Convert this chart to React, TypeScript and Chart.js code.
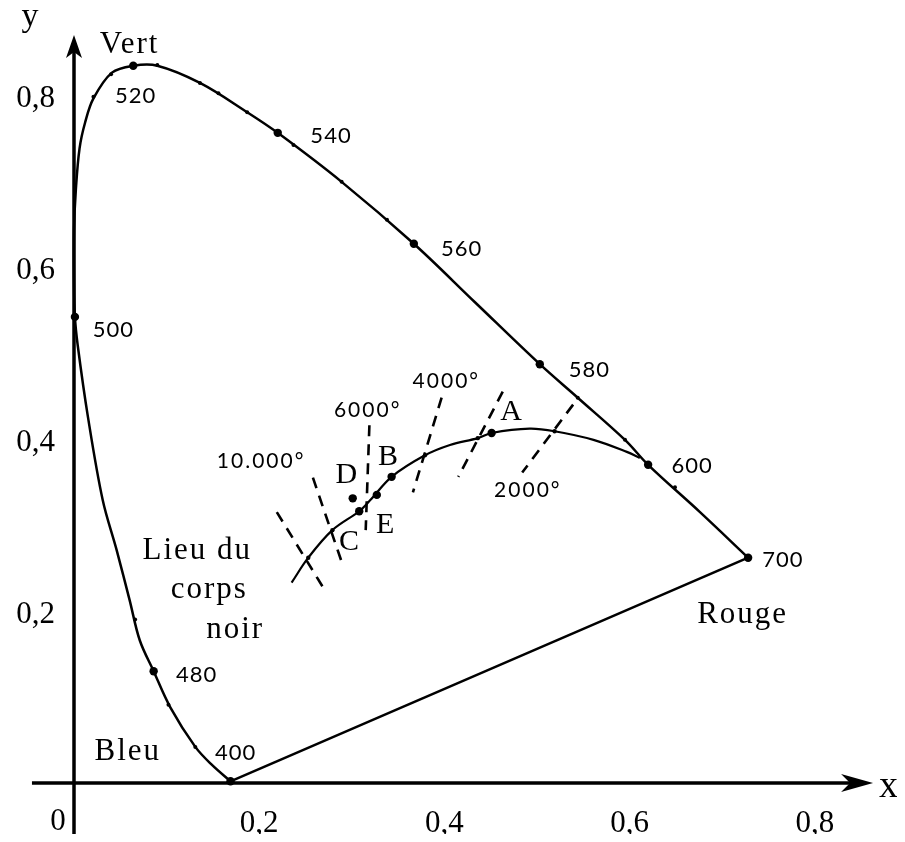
import React, { useEffect, useRef } from "react";
import { Chart, registerables } from "chart.js";

Chart.register(...registerables);

// ---------- data (chromaticity coordinates) ----------
const spectralLocus: [number, number][] = [
  [0.169, 0.002], [0.149, 0.021], [0.131, 0.042], [0.104, 0.088], [0.086, 0.13],
  [0.071, 0.166], [0.06, 0.213], [0.046, 0.271], [0.031, 0.329], [0.015, 0.426],
  [0.004, 0.509], [0.001, 0.542], [0.0, 0.585], [0.0, 0.643], [0.002, 0.69],
  [0.006, 0.738], [0.012, 0.768], [0.021, 0.796], [0.041, 0.826], [0.064, 0.834],
  [0.09, 0.834], [0.136, 0.814], [0.187, 0.78], [0.22, 0.756], [0.289, 0.699],
  [0.367, 0.627], [0.433, 0.559], [0.503, 0.487], [0.544, 0.448], [0.595, 0.399],
  [0.62, 0.37], [0.676, 0.315], [0.728, 0.262],
];
const purpleLine: [number, number][] = [[0.728, 0.262], [0.169, 0.002]];

const wavelengths = ["400", "480", "500", "520", "540", "560", "580", "600", "700"];
const wavelengthPoints: [number, number][] = [
  [0.169, 0.002], [0.086, 0.13], [0.001, 0.542], [0.064, 0.834], [0.22, 0.756],
  [0.367, 0.627], [0.503, 0.487], [0.62, 0.37], [0.728, 0.262],
];
const wavelengthLabelAnchors: [number, number][] = [
  [0.174, 0.027], [0.132, 0.117], [0.042, 0.519], [0.066, 0.791], [0.277, 0.744],
  [0.418, 0.613], [0.556, 0.472], [0.667, 0.361], [0.765, 0.251],
];
const spectralTicks: [number, number][] = [
  [0.131, 0.042], [0.102, 0.091], [0.066, 0.19], [0.021, 0.798], [0.04, 0.824],
  [0.09, 0.835], [0.136, 0.814], [0.156, 0.802], [0.187, 0.78], [0.237, 0.742],
  [0.289, 0.699], [0.338, 0.655], [0.544, 0.448], [0.595, 0.399], [0.649, 0.344],
];

const planckLocus: [number, number][] = [
  [0.235, 0.233], [0.253, 0.262], [0.279, 0.294], [0.308, 0.316], [0.32, 0.329],
  [0.343, 0.356], [0.379, 0.381], [0.406, 0.393], [0.436, 0.401], [0.451, 0.407],
  [0.492, 0.412], [0.519, 0.409], [0.561, 0.399], [0.597, 0.385], [0.611, 0.378],
];
const sourceNames = ["A", "B", "C", "D", "E"];
const sourcePoints: [number, number][] = [
  [0.451, 0.407], [0.343, 0.356], [0.308, 0.316], [0.301, 0.331], [0.327, 0.335],
];
const sourceLabelAnchors: [number, number][] = [
  [0.472, 0.422], [0.339, 0.37], [0.297, 0.271], [0.294, 0.349], [0.336, 0.291],
];
const planckTicks: [number, number][] = [
  [0.253, 0.262], [0.279, 0.294], [0.379, 0.381], [0.436, 0.401], [0.519, 0.409],
];

const isotherms: [number, number][][] = [
  [[0.219, 0.315], [0.271, 0.224]],
  [[0.258, 0.355], [0.291, 0.251]],
  [[0.319, 0.416], [0.315, 0.294]],
  [[0.397, 0.448], [0.366, 0.338]],
  [[0.463, 0.455], [0.415, 0.356]],
  [[0.539, 0.44], [0.484, 0.361]],
];
const temperatureLabels = ["10.000°", "6000°", "4000°", "2000°"];
const temperatureLabelAnchors: [number, number][] = [
  [0.201, 0.366], [0.316, 0.426], [0.401, 0.459], [0.489, 0.333],
];

const regionNames = ["Vert", "Bleu", "Rouge", "Lieu du", "corps", "noir"];
const regionLabelAnchors: [number, number][] = [
  [0.059, 0.849], [0.057, 0.027], [0.721, 0.186], [0.132, 0.261], [0.145, 0.215], [0.173, 0.169],
];

const xTickValues = [0.2, 0.4, 0.6, 0.8];
const yTickValues = [0.2, 0.4, 0.6, 0.8];

// ---------- layout ----------
const CANVAS_W = 897;
const CANVAS_H = 826;
const X_MIN = -0.01728;
const X_MAX = 0.8974;
const Y_MIN = -0.01977;
const Y_MAX = 0.90116;
const Y_ARROW_TIP = 0.8698;
const X_ARROW_TIP = 0.8629;
const X_AXIS_START = -0.0454;

const SERIF = "'Liberation Serif', 'Times New Roman', serif";
const SANS = "Lato, 'Open Sans', sans-serif";

const pts = (a: [number, number][]) => a.map(([x, y]) => ({ x, y }));

const lineDs = (a: [number, number][], width: number, tension: number, dash: number[] = []) => ({
  data: pts(a),
  showLine: true,
  borderColor: "#000",
  backgroundColor: "#000",
  borderWidth: width,
  borderDash: dash,
  borderJoinStyle: "round" as const,
  pointRadius: 0,
  pointHoverRadius: 0,
  tension,
  fill: false,
});

const dotDs = (a: [number, number][], r: number) => ({
  data: pts(a),
  showLine: false,
  pointRadius: r,
  pointHoverRadius: r,
  pointBackgroundColor: "#000",
  pointBorderColor: "#000",
  pointBorderWidth: 0,
  backgroundColor: "#000",
  borderColor: "#000",
});

type Ann = { text: string; at: [number, number]; font: string; spacing: number };

const annotations: Ann[] = [
  ...wavelengths.map((t, i) => ({ text: t, at: wavelengthLabelAnchors[i], font: `22px ${SANS}`, spacing: 1 })),
  ...temperatureLabels.map((t, i) => ({ text: t, at: temperatureLabelAnchors[i], font: `21px ${SANS}`, spacing: 2 })),
  ...sourceNames.map((t, i) => ({ text: t, at: sourceLabelAnchors[i], font: `30px ${SERIF}`, spacing: 0 })),
  ...regionNames.map((t, i) => ({ text: t, at: regionLabelAnchors[i], font: `31px ${SERIF}`, spacing: 2 })),
  { text: "y", at: [-0.0475, 0.88], font: `34px ${SERIF}`, spacing: 0 },
  { text: "x", at: [0.8795, -0.0163], font: `38px ${SERIF}`, spacing: 0 },
  { text: "0", at: [-0.0173, -0.0547], font: `31px ${SERIF}`, spacing: 0 },
];

const diagramPlugin = {
  id: "diagram",
  beforeDatasetsDraw(chart: any) {
    const { ctx, scales } = chart;
    const xs = scales.x;
    const ys = scales.y;
    ctx.save();
    ctx.strokeStyle = "#000";
    ctx.fillStyle = "#000";
    // vertical axis
    const ax = xs.getPixelForValue(0);
    const tipY = ys.getPixelForValue(Y_ARROW_TIP);
    ctx.lineWidth = 3.5;
    ctx.beginPath();
    ctx.moveTo(ax, CANVAS_H + 5);
    ctx.lineTo(ax, tipY + 12);
    ctx.stroke();
    ctx.beginPath();
    ctx.moveTo(ax, tipY);
    ctx.lineTo(ax - 8, tipY + 23);
    ctx.lineTo(ax, tipY + 17);
    ctx.lineTo(ax + 8, tipY + 23);
    ctx.closePath();
    ctx.fill();
    // horizontal axis
    const ay = ys.getPixelForValue(0);
    const tipX = xs.getPixelForValue(X_ARROW_TIP);
    ctx.beginPath();
    ctx.moveTo(xs.getPixelForValue(X_AXIS_START), ay);
    ctx.lineTo(tipX - 15, ay);
    ctx.stroke();
    ctx.beginPath();
    ctx.moveTo(tipX, ay);
    ctx.lineTo(tipX - 32, ay - 9);
    ctx.lineTo(tipX - 23, ay);
    ctx.lineTo(tipX - 32, ay + 9);
    ctx.closePath();
    ctx.fill();
    ctx.restore();
  },
  afterDraw(chart: any) {
    const { ctx, scales } = chart;
    ctx.save();
    ctx.fillStyle = "#000";
    ctx.textAlign = "center";
    ctx.textBaseline = "alphabetic";
    for (const a of annotations) {
      ctx.font = a.font;
      (ctx as any).letterSpacing = `${a.spacing}px`;
      const px = scales.x.getPixelForValue(a.at[0]) + a.spacing / 2;
      const py = scales.y.getPixelForValue(a.at[1]);
      ctx.fillText(a.text, px, py);
    }
    ctx.restore();
  },
};

const fmt = (v: number) => (Math.round(v * 10) / 10).toString().replace(".", ",");

export default function App() {
  const ref = useRef<HTMLCanvasElement>(null);
  useEffect(() => {
    document.documentElement.style.overflow = "hidden";
    const canvas = ref.current;
    if (!canvas) return;
    const datasets: any[] = [
      lineDs(spectralLocus, 2.5, 0.35),
      lineDs(purpleLine, 2.5, 0),
      lineDs(planckLocus, 2.2, 0.35),
      ...isotherms.map((seg) => lineDs(seg, 2.6, 0, [11, 8])),
      dotDs(wavelengthPoints, 4.2),
      dotDs(spectralTicks, 2),
      dotDs(sourcePoints, 4.2),
      dotDs(planckTicks, 2.2),
    ];
    const chart = new Chart(canvas, {
      type: "scatter",
      data: { datasets },
      options: {
        responsive: false,
        animation: false,
        events: [],
        layout: { padding: 0, autoPadding: false } as any,
        plugins: { legend: { display: false }, tooltip: { enabled: false } },
        scales: {
          x: {
            type: "linear",
            min: X_MIN,
            max: X_MAX,
            grid: { display: false, drawTicks: false },
            border: { display: false },
            afterBuildTicks: (s: any) => {
              s.ticks = xTickValues.map((value) => ({ value }));
            },
            afterFit: (s: any) => {
              s.height = 34;
              s.paddingLeft = 0;
              s.paddingRight = 0;
            },
            ticks: {
              font: { family: SERIF, size: 31 },
              color: "#000",
              padding: 5,
              maxRotation: 0,
              autoSkip: false,
              callback: (v: any) => fmt(Number(v)),
            },
          },
          y: {
            type: "linear",
            min: Y_MIN,
            max: Y_MAX,
            grid: { display: false, drawTicks: false },
            border: { display: false },
            afterBuildTicks: (s: any) => {
              s.ticks = yTickValues.map((value) => ({ value }));
            },
            afterFit: (s: any) => {
              s.width = 50;
              s.paddingTop = 0;
              s.paddingBottom = 0;
            },
            ticks: {
              font: { family: SERIF, size: 31 },
              color: "#000",
              padding: 3,
              labelOffset: 4,
              autoSkip: false,
              callback: (v: any) => fmt(Number(v)),
            },
          },
        },
      } as any,
      plugins: [diagramPlugin],
    });
    return () => chart.destroy();
  }, []);
  return (
    <div style={{ width: CANVAS_W, height: CANVAS_H }}>
      <canvas ref={ref} width={CANVAS_W} height={CANVAS_H} style={{ display: "block" }} />
    </div>
  );
}
